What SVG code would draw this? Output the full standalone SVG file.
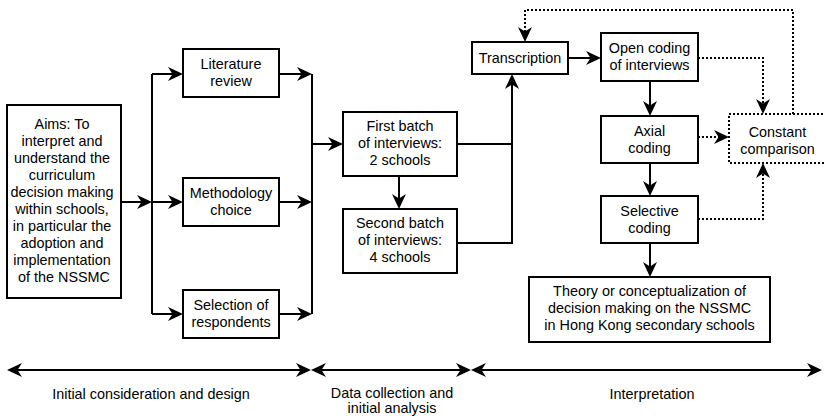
<svg xmlns="http://www.w3.org/2000/svg" width="824" height="418" viewBox="0 0 824 418">
  <style>
    .box { fill: #ffffff; stroke: #000000; stroke-width: 2; }
    .dbox { fill: #ffffff; stroke: #000000; stroke-width: 2; stroke-dasharray: 2 2; }
    .lbl { font-family: "Liberation Sans", Arial, sans-serif; font-size: 14.4px; fill: #000000; text-anchor: middle; }
    .ln { fill: none; stroke: #000000; stroke-width: 2; }
    .arr { fill: none; stroke: #000000; stroke-width: 2; marker-end: url(#head); }
    .dot { fill: none; stroke: #000000; stroke-width: 2; stroke-dasharray: 2 2; marker-end: url(#head); }
    .dbl { fill: none; stroke: #000000; stroke-width: 2; marker-start: url(#head); marker-end: url(#head); }
  </style>
  <defs>
    <!-- classic notched arrowhead; notch sits on the line end, tip 10px beyond -->
    <marker id="head" markerUnits="userSpaceOnUse" markerWidth="15" markerHeight="15" viewBox="0 0 15 15" refX="5" refY="7.5" orient="auto-start-reverse">
      <path d="M0,0.5 L15,7.5 L0,14.5 L4.5,7.5 Z" fill="#000000"/>
    </marker>
  </defs>

  <g id="connectors">
    <!-- aims fan-out -->
    <path class="arr" d="M121,202 H142"/>
    <path class="ln" d="M152,74 V314"/>
    <path class="arr" d="M152,74 H173"/>
    <path class="arr" d="M152,202 H173"/>
    <path class="arr" d="M152,314 H173"/>
    <!-- fan-in to data collection -->
    <path class="arr" d="M279,74 H302"/>
    <path class="arr" d="M279,202 H302"/>
    <path class="arr" d="M279,314 H302"/>
    <path class="ln" d="M312,74 V314"/>
    <path class="arr" d="M312,144 H333"/>
    <!-- interview batches -->
    <path class="arr" d="M399,176 V199"/>
    <path class="ln" d="M457,144 H512"/>
    <path class="arr" d="M457,243 H512 V84"/>
    <!-- coding chain -->
    <path class="arr" d="M568,58 H591"/>
    <path class="arr" d="M650,81 V106"/>
    <path class="arr" d="M650,163 V186"/>
    <path class="arr" d="M650,243 V267"/>
    <!-- constant comparison loops -->
    <path class="dot" d="M698,58 H763 V104"/>
    <path class="dot" d="M698,137 H719"/>
    <path class="dot" d="M698,219 H763 V173"/>
    <path class="dot" d="M793,114 V10 H525 V32"/>
    <!-- phase spans -->
    <path class="dbl" d="M17,370 H301"/>
    <path class="dbl" d="M321,370 H461"/>
    <path class="dbl" d="M481,370 H812"/>
  </g>

  <g id="aims">
    <rect class="box" x="7" y="105" width="114" height="193"/>
    <text class="lbl">
      <tspan x="64" y="129">Aims: To</tspan>
      <tspan x="64" y="146">interpret and</tspan>
      <tspan x="64" y="163">understand the</tspan>
      <tspan x="64" y="180">curriculum</tspan>
      <tspan x="64" y="197">decision making</tspan>
      <tspan x="64" y="214">within schools,</tspan>
      <tspan x="64" y="231">in particular the</tspan>
      <tspan x="64" y="248">adoption and</tspan>
      <tspan x="64" y="265">implementation</tspan>
      <tspan x="64" y="282">of the NSSMC</tspan>
    </text>
  </g>

  <g id="literature-review">
    <rect class="box" x="183" y="49" width="96" height="48"/>
    <text class="lbl"><tspan x="231" y="69">Literature</tspan><tspan x="231" y="86">review</tspan></text>
  </g>

  <g id="methodology-choice">
    <rect class="box" x="183" y="178" width="96" height="48"/>
    <text class="lbl"><tspan x="231" y="198">Methodology</tspan><tspan x="231" y="215">choice</tspan></text>
  </g>

  <g id="selection-of-respondents">
    <rect class="box" x="183" y="290" width="96" height="48"/>
    <text class="lbl"><tspan x="231" y="310">Selection of</tspan><tspan x="231" y="327">respondents</tspan></text>
  </g>

  <g id="first-batch">
    <rect class="box" x="343" y="112" width="114" height="64"/>
    <text class="lbl"><tspan x="400" y="131">First batch</tspan><tspan x="400" y="148">of interviews:</tspan><tspan x="400" y="165">2 schools</tspan></text>
  </g>

  <g id="second-batch">
    <rect class="box" x="343" y="209" width="114" height="64"/>
    <text class="lbl"><tspan x="400" y="228">Second batch</tspan><tspan x="400" y="245">of interviews:</tspan><tspan x="400" y="262">4 schools</tspan></text>
  </g>

  <g id="transcription">
    <rect class="box" x="472" y="42" width="96" height="32"/>
    <text class="lbl" x="520" y="63">Transcription</text>
  </g>

  <g id="open-coding">
    <rect class="box" x="601" y="33" width="97" height="48"/>
    <text class="lbl"><tspan x="649.5" y="53">Open coding</tspan><tspan x="649.5" y="70">of interviews</tspan></text>
  </g>

  <g id="axial-coding">
    <rect class="box" x="601" y="116" width="97" height="47"/>
    <text class="lbl"><tspan x="649.5" y="136">Axial</tspan><tspan x="649.5" y="153">coding</tspan></text>
  </g>

  <g id="selective-coding">
    <rect class="box" x="601" y="196" width="97" height="47"/>
    <text class="lbl"><tspan x="649.5" y="216">Selective</tspan><tspan x="649.5" y="233">coding</tspan></text>
  </g>

  <g id="constant-comparison">
    <rect class="dbox" x="729" y="114" width="97" height="49"/>
    <text class="lbl"><tspan x="777.5" y="137">Constant</tspan><tspan x="777.5" y="154">comparison</tspan></text>
  </g>

  <g id="theory">
    <rect class="box" x="529" y="277" width="241" height="65"/>
    <text class="lbl"><tspan x="649.5" y="296">Theory or conceptualization of</tspan><tspan x="649.5" y="313">decision making on the NSSMC</tspan><tspan x="649.5" y="330">in Hong Kong secondary schools</tspan></text>
  </g>

  <g id="phase-labels">
    <text class="lbl" x="151" y="399">Initial consideration and design</text>
    <text class="lbl"><tspan x="392" y="398">Data collection and</tspan><tspan x="392" y="413">initial analysis</tspan></text>
    <text class="lbl" x="652" y="399">Interpretation</text>
  </g>
</svg>
